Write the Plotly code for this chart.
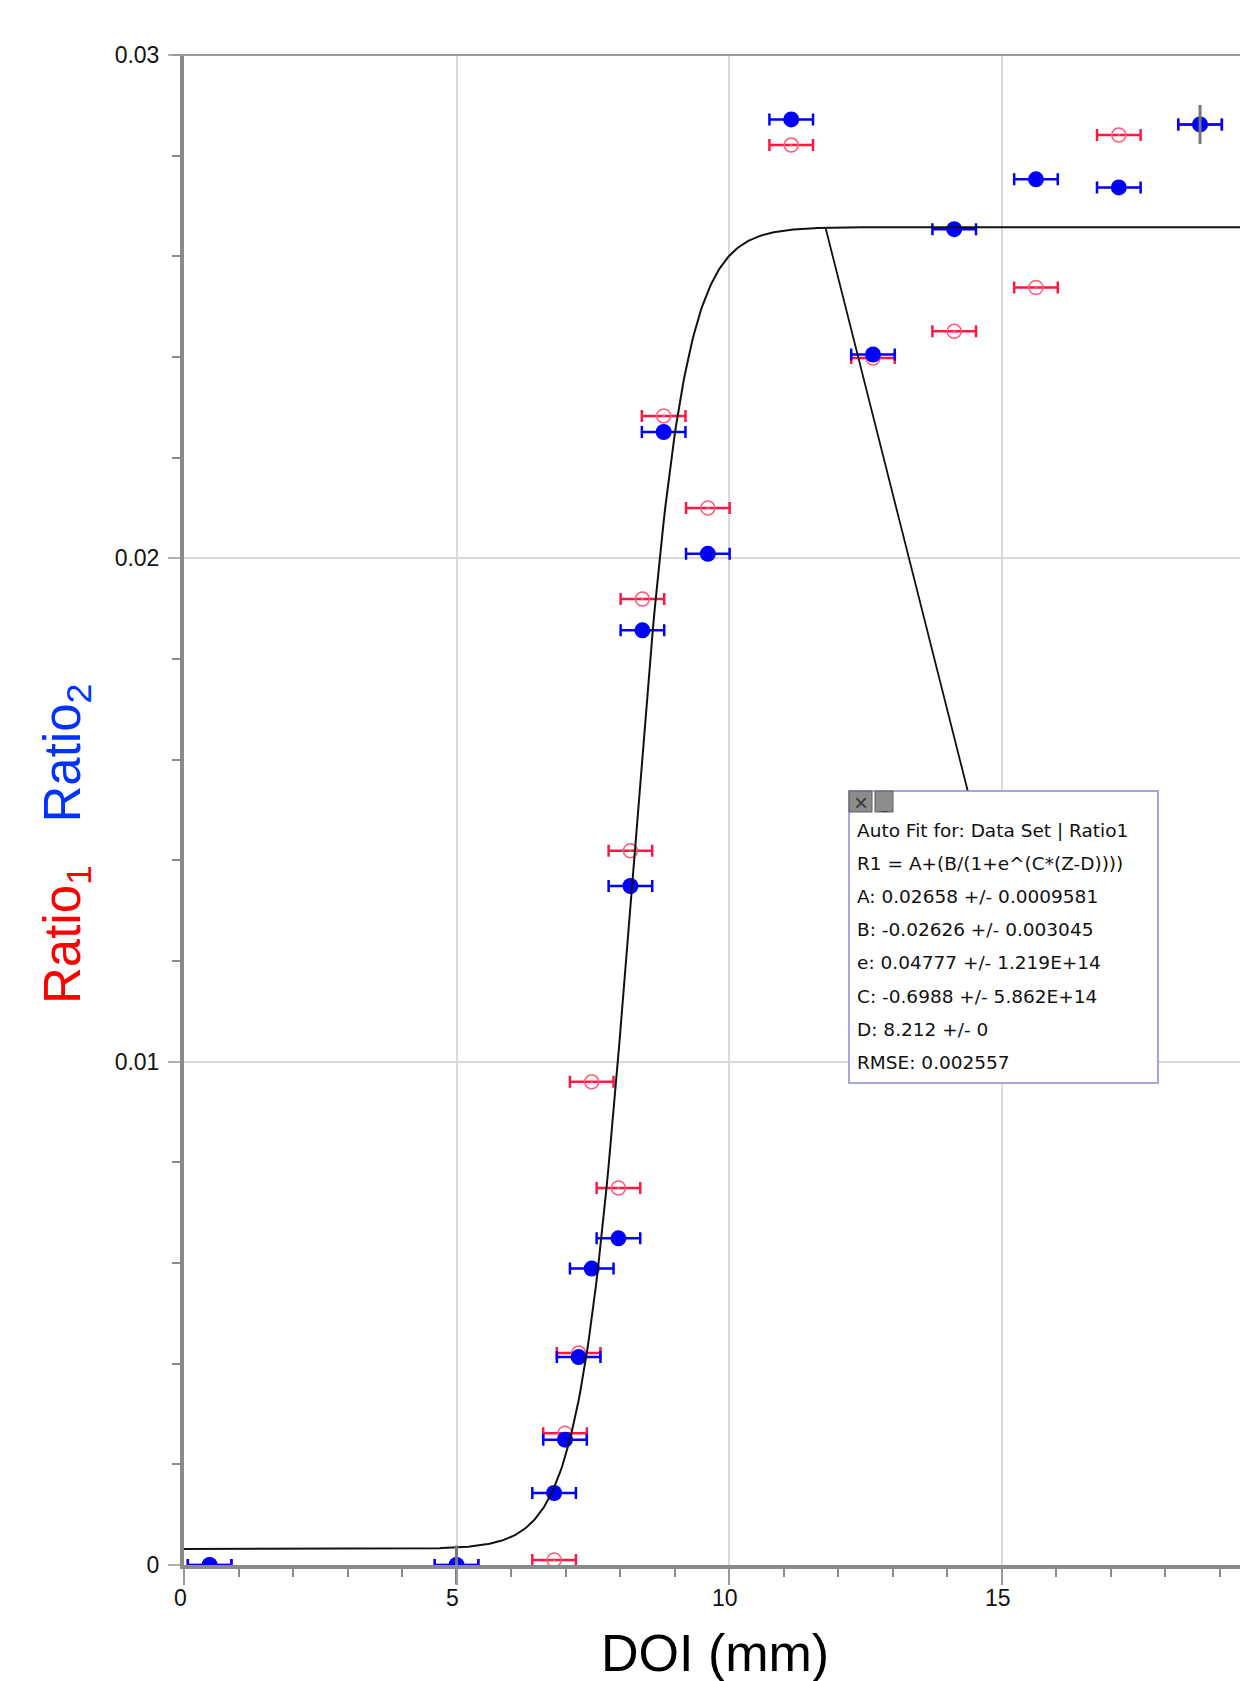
import numpy as np
import plotly.graph_objects as go

# ---------------- data ----------------
doi_mm = [0.47, 5.0, 6.79, 6.99, 7.24, 7.48, 7.97, 8.19, 8.41, 8.80, 9.61,
          11.14, 12.64, 14.13, 15.63, 17.15, 18.64]
ratio1 = [0.0, 0.0, 0.0001, 0.00262, 0.00421, 0.0096, 0.00749, 0.01419, 0.01919,
          0.02283, 0.0210, 0.02821, 0.02398, 0.02451, 0.02538, 0.02841, 0.02862]
ratio2 = [0.0, 0.0, 0.00143, 0.00249, 0.00413, 0.00589, 0.00649, 0.01349, 0.01857,
          0.02251, 0.02009, 0.02872, 0.02405, 0.02654, 0.02753, 0.02737, 0.02862]
doi_err = [0.4] * len(doi_mm)

# fit parameters shown in the Auto Fit box
FIT_A, FIT_B, FIT_E, FIT_C, FIT_D = 0.02658, -0.02626, 0.04777, -0.6988, 8.212
fit_range_x = [5.0, 18.64]
fit_range_y = [0.0, 0.02862]
callout_z = 11.77

box_lines = [
    "Auto Fit for: Data Set | Ratio1",
    "R1 = A+(B/(1+e^(C*(Z-D))))",
    "A: 0.02658 +/- 0.0009581",
    "B: -0.02626 +/- 0.003045",
    "e: 0.04777 +/- 1.219E+14",
    "C: -0.6988 +/- 5.862E+14",
    "D: 8.212 +/- 0",
    "RMSE: 0.002557",
]

X_RANGE = [0, 19.52]
Y_RANGE = [0, 0.03]
x_ticks = [0, 5, 10, 15]
x_ticklabels = ["0", "5", "10", "15"]
y_ticks = [0, 0.01, 0.02, 0.03]
y_ticklabels = ["0", "0.01", "0.02", "0.03"]


def fit(z):
    z = np.asarray(z, dtype=float)
    return FIT_A + FIT_B / (1.0 + FIT_E ** (FIT_C * (z - FIT_D)))


# ---------------- layout geometry (page pixels; body margin 8px) ----------------
OFF = 8
W, H = 1248 - OFF, 1681 - OFF
PL, PT, PR, PB = 184, 55, 1248, 1565   # plot area in page pixels


def px(x):
    return (x - PL) / (PR - PL)


def py(y):
    return (PB - y) / (PB - PT)


FONT = "Liberation Sans, Arial, Helvetica, sans-serif"
BOXFONT = "DejaVu Sans, Verdana, sans-serif"

fig = go.Figure()

# Ratio1 (red, open circles)
fig.add_trace(go.Scatter(
    x=doi_mm, y=ratio1, mode="markers", name="Ratio1",
    marker=dict(symbol="circle-open-dot", size=14, color="#ff5a78",
                line=dict(width=1.5, color="#ff5a78")),
    error_x=dict(type="data", array=doi_err, visible=True,
                 color="#ff1744", thickness=2.5, width=6),
))

# Ratio2 (blue, filled)
fig.add_trace(go.Scatter(
    x=doi_mm, y=ratio2, mode="markers", name="Ratio2",
    marker=dict(symbol="circle", size=16, color="#0000ff"),
    error_x=dict(type="data", array=doi_err, visible=True,
                 color="#0000ff", thickness=2.5, width=6),
))

# fit curve
zc = np.linspace(X_RANGE[0], X_RANGE[1], 600)
fig.add_trace(go.Scatter(
    x=zc, y=fit(zc), mode="lines", name="fit",
    line=dict(color="#111111", width=2),
))

# fit range brackets
fig.add_trace(go.Scatter(
    x=fit_range_x, y=fit_range_y, mode="markers", cliponaxis=False,
    marker=dict(symbol="line-ns", size=28, line=dict(width=3, color="#777777")),
))

fig.update_layout(
    width=W, height=H,
    margin=dict(l=PL - OFF, r=(W + OFF) - PR, t=PT - OFF, b=(H + OFF) - PB, pad=0),
    paper_bgcolor="white", plot_bgcolor="white",
    showlegend=False,
    font=dict(family=FONT, color="#111111"),
    xaxis=dict(
        range=X_RANGE, tickvals=x_ticks, showticklabels=False,
        showgrid=True, gridcolor="#dadada", gridwidth=1.5,
        zeroline=False, showline=True, linecolor="#8a8a8a", linewidth=4,
        ticks="outside", ticklen=16, tickwidth=1.5, tickcolor="#9a9a9a",
        minor=dict(dtick=1, tick0=0, ticks="outside", ticklen=8,
                   tickwidth=1.5, tickcolor="#8a8a8a", showgrid=False),
    ),
    yaxis=dict(
        range=Y_RANGE, tickvals=y_ticks, ticktext=y_ticklabels,
        showgrid=True, gridcolor="#dadada", gridwidth=1.5,
        zeroline=False, showline=True, linecolor="#8a8a8a", linewidth=4,
        ticks="outside", ticklen=12, tickwidth=1.5, tickcolor="#b0b0b0",
        tickfont=dict(size=23, color="#111111", family=FONT),
        ticklabelstandoff=4,
        minor=dict(dtick=0.002, tick0=0, ticks="outside", ticklen=8,
                   tickwidth=1.5, tickcolor="#8a8a8a", showgrid=False),
    ),
)

shapes = []
# top frame line at 0.03
shapes.append(dict(type="line", xref="paper", yref="paper", x0=px(172), x1=1,
                   y0=1, y1=1, line=dict(color="#9a9a9a", width=2), layer="above"))

# Auto fit box
bx0, by0, bx1, by1 = 849, 791, 1158, 1083
shapes.append(dict(type="rect", xref="paper", yref="paper",
                   x0=px(bx0), x1=px(bx1), y0=py(by1), y1=py(by0),
                   fillcolor="white", line=dict(color="#a6a6dc", width=2),
                   layer="above"))
# small buttons
for (a, b) in [(849, 872), (875, 893)]:
    shapes.append(dict(type="rect", xref="paper", yref="paper",
                       x0=px(a), x1=px(b), y0=py(812), y1=py(791),
                       fillcolor="#8c8c8c", line=dict(color="#5e5e5e", width=1),
                       layer="above"))
fig.update_layout(shapes=shapes)

ann = []
# x tick labels (placed through the x axis scale)
for t, lab in zip(x_ticks, x_ticklabels):
    ann.append(dict(x=t, y=py(1598), xref="x", yref="paper", text=lab,
                    showarrow=False, xanchor="center", yanchor="middle", xshift=-4,
                    font=dict(size=23, color="#111111", family=FONT)))
# leader line from the curve to the box
yc = float(fit(callout_z))
ann.append(dict(x=callout_z, y=yc, xref="x", yref="y", text="",
                showarrow=True, arrowhead=0, arrowwidth=1.8, arrowcolor="#111111",
                ax=968 - (PL + (callout_z - X_RANGE[0]) / (X_RANGE[1] - X_RANGE[0]) * (PR - PL)),
                ay=792 - (PB - (yc - Y_RANGE[0]) / (Y_RANGE[1] - Y_RANGE[0]) * (PB - PT)),
                standoff=0, startstandoff=0))
# button glyphs
ann.append(dict(x=px(860.5), y=py(802), xref="paper", yref="paper", text="×",
                showarrow=False, font=dict(size=24, color="#3a3a3a", family=FONT),
                xanchor="center", yanchor="middle"))
ann.append(dict(x=px(884), y=py(805), xref="paper", yref="paper", text="_",
                showarrow=False, font=dict(size=12, color="#3a3a3a", family=FONT),
                xanchor="center", yanchor="middle"))
# box text
for i, line in enumerate(box_lines):
    ann.append(dict(x=px(855), y=py(830 + 33.2 * i), xref="paper", yref="paper",
                    text=line, showarrow=False, xanchor="left", yanchor="middle",
                    font=dict(size=18.5, color="#111111", family=BOXFONT)))

# axis titles
ann.append(dict(x=px(715), y=py(1653), xref="paper", yref="paper",
                text="DOI (mm)", showarrow=False, xanchor="center", yanchor="middle",
                font=dict(size=52, color="#000000", family=FONT)))
ann.append(dict(x=px(66), y=py(844), xref="paper", yref="paper", textangle=-90,
                text=('<span style="color:#ff0000">Ratio<sub>1</sub></span>'
                      '&nbsp;&nbsp;&nbsp;'
                      '<span style="color:#0033ff">Ratio<sub>2</sub></span>'),
                showarrow=False, xanchor="center", yanchor="middle",
                font=dict(size=51, family=FONT)))
fig.update_layout(annotations=ann)

fig.write_html("out.html")
